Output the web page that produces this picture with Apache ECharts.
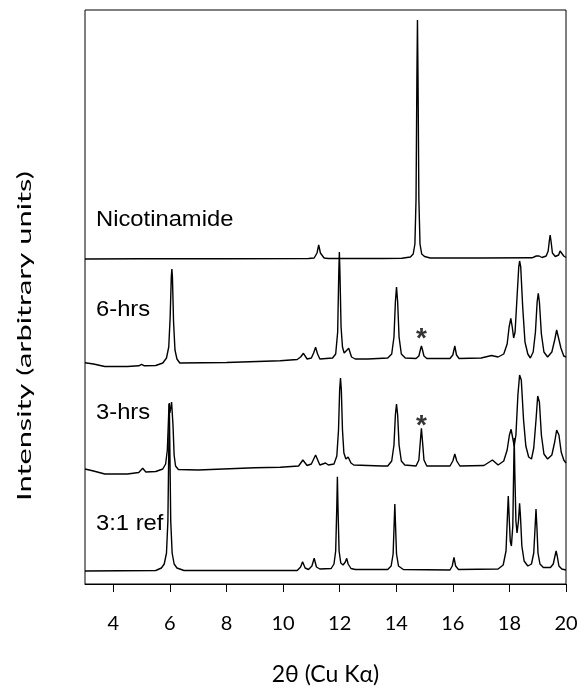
<!DOCTYPE html>
<html>
<head>
<meta charset="utf-8">
<script src="https://cdn.jsdelivr.net/npm/echarts@6/dist/echarts.min.js"></script>
<style>
html,body{margin:0;padding:0;background:#fff;}
#chart{width:584px;height:695px;}
</style>
</head>
<body>
<div id="chart"></div>
<script>
// ---- data (2θ in degrees, intensity in arbitrary units above each pattern's own baseline) ----
const xTicks = [4, 6, 8, 10, 12, 14, 16, 18, 20];
const patternNames = ['Nicotinamide', '6-hrs', '3-hrs', '3:1 ref'];
const baselineOffsets = [325, 222, 114, 13];

const nicotinamide = [
  [3.0,0],[5.0,0.3],[8.0,0.2],[10.9,0.5],[11.1,1],[11.2,6],[11.26,14],[11.32,6],[11.45,1],[11.6,0.5],
  [13.5,0.5],[14.2,0.8],[14.5,2],[14.6,5],[14.66,15],[14.7,60],[14.73,180],[14.75,239],[14.77,180],[14.8,60],
  [14.84,15],[14.9,5],[15.0,2.5],[15.2,1],[17.0,1],[18.8,1.2],[18.95,3],[19.0,5],[19.05,3],[19.15,1.5],
  [19.3,3],[19.37,8],[19.41,18],[19.44,24],[19.47,18],[19.52,6],[19.62,2.5],[19.74,4],[19.79,8],[19.82,10],
  [19.85,8],[19.92,3],[20.0,1.5]
];
const hrs6 = [
  [3.0,-0.7],[3.3,-2],[3.7,-4.5],[4.5,-4.5],[4.9,-3.8],[5.0,-2.3],[5.1,-3.8],[5.5,-3.5],[5.75,-1],
  [5.88,4],[5.96,15],[6.01,45],[6.05,85],[6.07,93],[6.09,85],[6.13,40],[6.18,12],[6.25,3],[6.35,-1],
  [8.0,-0.5],[9.9,1.3],[10.5,2.5],[10.62,5],[10.72,8.7],[10.85,3],[11.0,4],[11.08,9],[11.15,14.7],[11.22,8],
  [11.3,3],[11.75,4],[11.86,8],[11.93,30],[11.97,90],[11.99,110],[12.01,90],[12.05,35],[12.1,15],[12.16,9],
  [12.22,10],[12.32,13.7],[12.42,5],[12.55,3],[13.0,3],[13.7,4],[13.84,8],[13.92,25],[13.97,60],[14.01,75],
  [14.05,60],[14.1,25],[14.18,8],[14.32,4],[14.7,3.5],[14.8,6],[14.86,13],[14.89,16],[14.92,13],[14.98,6],
  [15.08,3.5],[15.9,3.5],[16.0,7],[16.07,16],[16.13,7],[16.22,3.5],[17.0,4],[17.37,6.5],[17.6,5],[17.8,8],
  [17.92,18],[17.99,35],[18.05,43.7],[18.1,35],[18.15,24],[18.2,30],[18.27,65],[18.33,95],[18.36,101],
  [18.4,95],[18.47,55],[18.55,20],[18.65,8],[18.74,4],[18.84,10],[18.92,30],[18.98,60],[19.02,68.7],
  [19.06,60],[19.13,28],[19.22,10],[19.35,5],[19.5,10],[19.6,22],[19.67,32],[19.7,33.7],[19.74,30],
  [19.82,14],[19.92,6],[20.0,5]
];
const hrs3 = [
  [3.0,1],[3.3,-1],[3.7,-4],[4.5,-4],[4.9,-2.5],[5.04,1.7],[5.15,-2],[5.5,-1.5],[5.75,1],[5.85,6],
  [5.91,20],[5.95,50],[5.97,66],[6.0,57],[6.02,58],[6.06,68],[6.08,70],[6.11,45],[6.15,15],[6.2,4],
  [6.3,0.5],[7.0,0],[9.0,2.3],[9.9,2.7],[10.55,4],[10.7,10],[10.85,4.5],[11.0,6],[11.15,15],[11.3,5],
  [11.5,7],[11.6,5],[11.8,6],[11.9,14],[11.96,40],[12.0,80],[12.03,92],[12.06,80],[12.1,40],[12.15,17],
  [12.22,11],[12.3,13],[12.4,7],[12.5,5],[13.5,4],[13.7,4],[13.84,9],[13.92,25],[13.97,55],[14.01,66],
  [14.05,55],[14.1,25],[14.18,9],[14.3,5],[14.7,4],[14.8,10],[14.85,28],[14.89,41.7],[14.93,28],[14.98,10],
  [15.08,4],[15.9,4],[16.0,9],[16.07,16],[16.14,9],[16.25,4],[17.1,4.5],[17.4,10],[17.6,5],[17.8,9],
  [17.92,20],[18.0,35],[18.06,40.7],[18.11,33],[18.17,24],[18.23,35],[18.3,75],[18.36,95],[18.38,96.7],
  [18.42,90],[18.5,50],[18.58,24],[18.68,13],[18.78,11],[18.86,22],[18.94,50],[19.0,74],[19.02,76],
  [19.06,68],[19.13,35],[19.22,16],[19.35,11],[19.5,15],[19.6,28],[19.67,40],[19.7,41.7],[19.75,35],
  [19.83,18],[19.92,10],[20.0,7]
];
const ref31 = [
  [3.0,0],[5.5,0.5],[5.7,3],[5.8,7],[5.88,18],[5.93,50],[5.96,120],[5.98,168],[6.0,120],[6.03,50],
  [6.08,18],[6.15,7],[6.25,3],[6.5,0.5],[10.5,0.5],[10.62,4],[10.69,9.3],[10.78,3],[10.9,1.5],[11.02,5],
  [11.1,12.7],[11.18,4],[11.3,2],[11.7,2.5],[11.8,7],[11.86,20],[11.9,65],[11.92,94.3],[11.94,65],
  [11.98,20],[12.04,8],[12.12,6],[12.2,9],[12.25,12.7],[12.3,7],[12.4,2.5],[12.55,1.5],[13.7,1.5],
  [13.82,5],[13.89,17],[13.93,50],[13.95,67],[13.97,50],[14.01,17],[14.08,5],[14.25,1.5],[15.9,1],
  [15.98,5],[16.04,13.7],[16.1,5],[16.2,1.5],[17.6,2],[17.78,6],[17.88,20],[17.93,55],[17.96,75],
  [17.99,55],[18.03,30],[18.07,25],[18.12,45],[18.15,100],[18.17,133],[18.19,100],[18.23,50],[18.27,38],
  [18.32,50],[18.36,67.7],[18.39,55],[18.44,25],[18.52,10],[18.65,5],[18.78,7],[18.86,18],[18.91,45],
  [18.94,62],[18.97,45],[19.01,18],[19.08,7],[19.2,3.5],[19.45,3.5],[19.55,7],[19.61,15],[19.65,20],
  [19.69,15],[19.75,5],[19.85,2],[20.0,1]
];
const patterns = [nicotinamide, hrs6, hrs3, ref31];

// peaks marked with an asterisk: [2θ, pattern index, intensity at the mark]
const starMarks = [[14.89, 1, 29], [14.89, 2, 50]];

const chart = echarts.init(document.getElementById('chart'));
const gridL = 85, gridT = 10, gridR = 18, gridB = 111;

const series = patterns.map((pts, i) => ({
  type: 'line',
  name: patternNames[i],
  data: pts.map(p => [p[0], p[1] + baselineOffsets[i]]),
  symbol: 'none',
  lineStyle: { color: '#000', width: 1.4 },
  silent: true,
  animation: false,
  z: 3
}));

series.push({
  type: 'scatter',
  data: starMarks.map(s => [s[0], s[2] + baselineOffsets[s[1]]]),
  symbolSize: 0,
  label: {
    show: true, formatter: '*', position: 'inside',
    fontFamily: 'Liberation Sans', fontWeight: 'bold', fontSize: 28, color: '#000',
    offset: [0, 6]
  },
  animation: false, silent: true
});

const labelFont = '22px "Liberation Sans"';
chart.setOption({
  animation: false,
  backgroundColor: '#fff',
  grid: { left: gridL, right: gridR, top: gridT, bottom: gridB, show: true, borderColor: '#000', borderWidth: 1, backgroundColor: 'transparent' },
  xAxis: {
    type: 'value', min: 3, max: 20,
    axisLine: { show: true, lineStyle: { color: '#000', width: 1 } },
    axisTick: { show: true, customValues: xTicks, length: 8, inside: false, lineStyle: { color: '#000' } },
    axisLabel: { customValues: xTicks, fontFamily: 'Lato', fontSize: 20, color: '#000', margin: 30 },
    splitLine: { show: false },
    name: '2θ (Cu Kα)', nameLocation: 'middle', nameGap: 79,
    nameTextStyle: { fontFamily: 'Lato', fontSize: 23, color: '#000' }
  },
  yAxis: {
    type: 'value', min: 0, max: 574,
    axisLine: { show: false }, axisTick: { show: false }, axisLabel: { show: false }, splitLine: { show: false }
  },
  graphic: [
    { type: 'text', x: 96, y: 220, scaleX: 1.08, style: { text: 'Nicotinamide', font: labelFont, fill: '#000', verticalAlign: 'middle' } },
    { type: 'text', x: 96, y: 310, scaleX: 1.08, style: { text: '6-hrs', font: labelFont, fill: '#000', verticalAlign: 'middle' } },
    { type: 'text', x: 96, y: 413, scaleX: 1.08, style: { text: '3-hrs', font: labelFont, fill: '#000', verticalAlign: 'middle' } },
    { type: 'text', x: 96, y: 524, scaleX: 1.08, style: { text: '3:1 ref', font: labelFont, fill: '#000', verticalAlign: 'middle' } },
    { type: 'text', x: 25, y: 336, rotation: Math.PI / 2, scaleX: 1.62,
      style: { text: 'Intensity (arbitrary units)', font: '19px Lato', fill: '#000', align: 'center', verticalAlign: 'middle' } }
  ],
  series: series
});
</script>
</body>
</html>
